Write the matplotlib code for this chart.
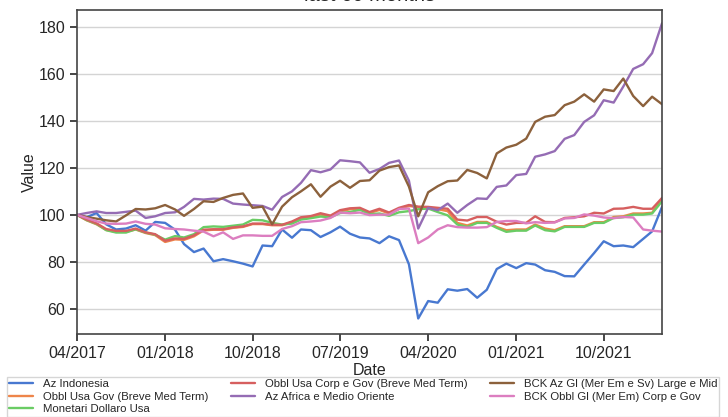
import pandas as pd
import matplotlib
matplotlib.use("Agg")
import matplotlib.pyplot as plt
import matplotlib.dates as mdates
import seaborn as sns

# monthly values, base 100 at 04/2017
dates = pd.date_range("2017-04-01", periods=61, freq="MS")

az_indonesia = [100, 99, 100.8, 96, 93.8, 94.2, 95.6, 93.3, 97, 96.6,
                93.7, 87.6, 84.2, 85.7, 80.3, 81.2, 80.3, 79.3, 78.1, 87,
                86.7, 93.8, 90.3, 93.8, 93.5, 90.6, 92.6, 95, 92, 90.4,
                90, 88, 90.9, 89.3, 79, 56, 63.4, 62.7, 68.4, 67.8,
                68.5, 64.8, 68.2, 77, 79.3, 77.4, 79.5, 78.9, 76.5, 75.8,
                74, 73.9, 78.9, 83.8, 88.8, 86.7, 87, 86.3, 89.8, 93,
                103.4]
obbl_usa_gov = [100, 97.7, 96, 93.6, 92.8, 92.8, 93.8, 92.3, 91.4, 88.5,
                89.6, 89.4, 90.9, 93.4, 93.7, 93.7, 94.5, 94.9, 96.1, 96.1,
                95.6, 95.6, 96.9, 98.6, 99, 100.2, 99.3, 101.5, 102.4, 102.6,
                100.8, 102.1, 100.6, 102.5, 103.8, 103.3, 103, 102.4, 101.6, 96.6,
                95.5, 97, 97, 94.9, 93.5, 93.8, 93.8, 95.9, 94.2, 93.5,
                95.2, 95.2, 95.2, 96.9, 96.9, 99.1, 99.4, 100.6, 100.6, 100.9,
                106.8]
monetari_usd = [100, 97.8, 96.2, 93.5, 92.5, 92.5, 93.9, 92.5, 91.6, 89.5,
                91, 90.4, 91.8, 94.8, 95.1, 94.9, 95.4, 95.9, 97.9, 97.7,
                96.6, 95.9, 96.3, 98, 98.6, 99.3, 99, 100.8, 101.2, 102.2,
                100.3, 100.6, 99.6, 101.1, 101.6, 102.4, 102.7, 101.2, 99.8, 95.9,
                94.9, 96.6, 96.6, 94.5, 92.8, 93.3, 93.3, 95.5, 93.5, 93,
                94.9, 94.9, 94.9, 96.6, 96.6, 98.7, 99, 100.1, 100.1, 100.6,
                105.8]
obbl_usa_corp = [100, 98, 96.4, 94, 93.2, 93.2, 94.2, 92.6, 91.8, 89,
                 90, 89.8, 91.3, 93.7, 93.9, 93.9, 94.7, 95.1, 96.3, 96.3,
                 95.8, 95.8, 97.2, 99, 99.5, 100.7, 99.7, 102, 102.8, 103,
                 101.2, 102.6, 101, 103, 104.2, 103.5, 103.4, 103, 102.6, 98,
                 97.6, 99.1, 99.1, 97.1, 95.9, 96.6, 96.6, 99.4, 97, 96.9,
                 98.7, 99, 99.4, 100.9, 100.6, 102.6, 102.7, 103.4, 102.6, 102.6,
                 107.2]
az_africa = [100, 100.8, 101.5, 100.8, 100.8, 101.3, 101.8, 98.7, 99.4, 100.8,
             101.1, 103.4, 106.8, 106.5, 106.9, 106.8, 104.8, 104.4, 104.1, 103.8,
             102.2, 107.6, 110, 113.6, 119, 118.1, 119.3, 123.2, 122.8, 122.3,
             117.9, 119.5, 122.1, 123.1, 114.5, 94.2, 103, 102, 104.8, 100.9,
             104.2, 107, 106.8, 111.9, 112.5, 116.9, 117.4, 124.7, 125.7, 127.1,
             132.3, 133.9, 139.5, 142.3, 148.7, 147.7, 154.5, 162, 164, 168.7,
             181.4]
bck_az_gl = [100, 99.1, 98.4, 97.7, 97.2, 99.8, 102.5, 102.3, 102.8, 104.2,
             102.3, 99.6, 102.5, 105.8, 105.5, 107.2, 108.5, 109.1, 103, 103.5,
             96, 103.5, 107.5, 110, 113, 107.7, 112, 114.5, 111.5, 114.4,
             114.7, 118.8, 120.3, 121, 112, 99.4, 109.6, 112.2, 114.3, 114.6,
             119.1, 117.8, 115.5, 126.1, 128.6, 129.8, 132.4, 139.5, 141.7, 142.4,
             146.6, 148.1, 151.2, 148.1, 153.3, 152.6, 157.9, 150.5, 146.2, 150.2,
             147]
bck_obbl_gl = [100, 98.7, 97.3, 96.3, 96.2, 96.3, 97.2, 96.2, 95.9, 94.3,
               94, 93.8, 93.3, 92.9, 90.9, 92.6, 89.8, 91.3, 91.3, 91.1,
               91.1, 94, 95.2, 96.9, 97.2, 97.6, 98.7, 101, 100.7, 101,
               99.9, 100.1, 100.1, 102.5, 102.7, 88, 90.4, 93.8, 95.6, 94.8,
               94.6, 94.6, 94.8, 97, 97.4, 97.4, 96.4, 96.9, 96.6, 96.8,
               98.5, 98.7, 100.2, 99.7, 98.9, 98.6, 99.1, 98.9, 93.8, 93.3,
               92.9]

names = ["Az Indonesia",
         "Obbl Usa Gov (Breve Med Term)",
         "Monetari Dollaro Usa",
         "Obbl Usa Corp e Gov (Breve Med Term)",
         "Az Africa e Medio Oriente",
         "BCK Az Gl (Mer Em e Sv) Large e Mid",
         "BCK Obbl Gl (Mer Em) Corp e Gov"]
series = [az_indonesia, obbl_usa_gov, monetari_usd, obbl_usa_corp,
          az_africa, bck_az_gl, bck_obbl_gl]

tick_dates = pd.date_range("2017-04-01", periods=7, freq="9MS")

sns.set_style("ticks")
plt.rcParams['font.family'] = ['Liberation Sans', 'DejaVu Sans']

fig = plt.figure(figsize=(7.28, 4.17), dpi=100)
ax = fig.add_axes([0.1058, 0.199, 0.8036, 0.778])

colors = sns.color_palette("muted")
for s, name, c in zip(series, names, colors):
    ax.plot(dates, s, color=c, lw=1.7, label=name)

ax.set_xlim(dates[0], dates[-1])
ax.set_ylim(49.4, 187.2)
ax.set_yticks([60, 80, 100, 120, 140, 160, 180])
ax.set_xticks(tick_dates)
ax.xaxis.set_major_formatter(mdates.DateFormatter("%m/%Y"))
ax.grid(axis="y", color="#d4d4d4", lw=1)
ax.tick_params(labelsize=11.5, length=5, width=1.2, colors="#262626")
for sp in ax.spines.values():
    sp.set_color("#444444")
    sp.set_linewidth(1.2)

ax.set_xlabel("Date", fontsize=11.5, labelpad=1.5)
ax.set_ylabel("Value", fontsize=11.5, labelpad=1)
ax.set_title("last 60 months", fontsize=14.5, color="#262626")

fig.legend(loc="upper left", bbox_to_anchor=(7 / 728, 1 - 377 / 417),
           borderaxespad=0, ncol=3, fontsize=8.2, labelspacing=0.22,
           borderpad=0.2, handlelength=2.1, handletextpad=0.85,
           frameon=True, edgecolor="#cccccc", fancybox=False)

fig.savefig("out.png", dpi=100)
